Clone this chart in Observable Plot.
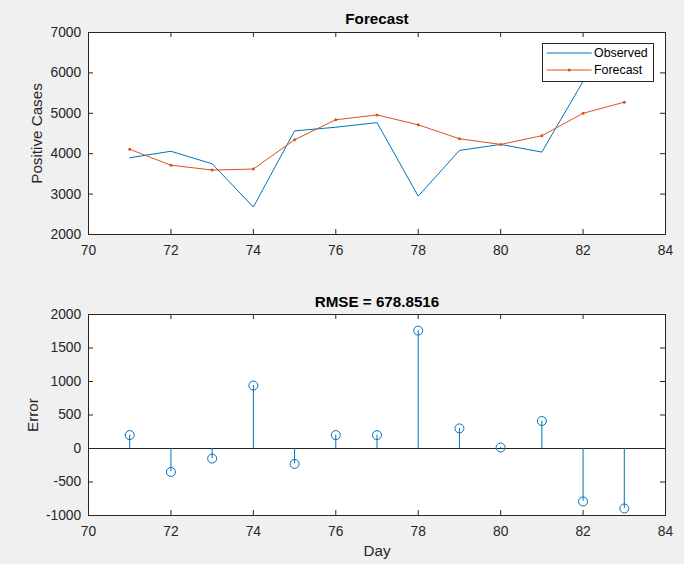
<!DOCTYPE html>
<html>
<head>
<meta charset="utf-8">
<script src="https://cdn.jsdelivr.net/npm/d3@7"></script>
<script src="https://cdn.jsdelivr.net/npm/@observablehq/plot@0.6"></script>
<style>
  html, body { margin: 0; padding: 0; background: #f0f0f0; }
  #chart { position: relative; width: 684px; height: 564px; background: #f0f0f0;
           font-family: "Liberation Sans", Arial, Helvetica, sans-serif; }
  #chart svg { display: block; }
  #legend { position: absolute; left: 542px; top: 43px; }
</style>
</head>
<body>
<div id="chart"></div>
<script>
// ---- data ----
const days = [71, 72, 73, 74, 75, 76, 77, 78, 79, 80, 81, 82, 83];
const observed = [3900, 4060, 3750, 2680, 4565, 4655, 4770, 2950, 4080, 4230, 4040, 5790, 6170];
const forecast = [4110, 3715, 3595, 3620, 4345, 4840, 4960, 4715, 4370, 4230, 4445, 5000, 5275];
const errors = [200, -350, -150, 940, -230, 200, 200, 1760, 300, 15, 410, -790, -895];
const xTicks = [70, 72, 74, 76, 78, 80, 82, 84];
const yTicksTop = [2000, 3000, 4000, 5000, 6000, 7000];
const yTicksBottom = [-1000, -500, 0, 500, 1000, 1500, 2000];
const titleTop = "Forecast";
const titleBottom = "RMSE = 678.8516";
const yLabelTop = "Positive Cases";
const yLabelBottom = "Error";
const xLabelBottom = "Day";
const seriesNames = ["Observed", "Forecast"];

const obsData = days.map((d, i) => ({day: d, value: observed[i]}));
const fcData = days.map((d, i) => ({day: d, value: forecast[i]}));
const errData = days.map((d, i) => ({day: d, err: errors[i]}));

const axisColor = "#262626";
const blue = "#0072BD", orange = "#D95319";
const font = '"Liberation Sans", Arial, Helvetica, sans-serif';
const W = 684, H = 282;
const mL = 88, mR = 19;
const innerW = W - mL - mR;

function frameTicks(innerH, yTicks) {
  return [
    Plot.tickX(xTicks, {x: d => d, insetTop: innerH - 5, stroke: axisColor}),
    Plot.tickX(xTicks, {x: d => d, insetBottom: innerH - 5, stroke: axisColor}),
    Plot.tickY(yTicks, {y: d => d, insetRight: innerW - 5, stroke: axisColor}),
    Plot.tickY(yTicks, {y: d => d, insetLeft: innerW - 5, stroke: axisColor}),
    Plot.axisX(xTicks, {tickSize: 0, tickPadding: 10.8, tickFormat: d => String(d), label: null}),
    Plot.axisY(yTicks, {tickSize: 0, tickPadding: 7.3, tickFormat: d => String(d), label: null})
  ];
}

const styleObj = {background: "transparent", fontFamily: font, fontSize: "13.8px", color: axisColor, overflow: "visible"};
const mid = {textAnchor: "middle", lineAnchor: "middle"};

// ---- top: Forecast ----
const mT1 = 32, mB1 = 48;
const topPlot = Plot.plot({
  width: W, height: H, marginLeft: mL, marginRight: mR, marginTop: mT1, marginBottom: mB1,
  style: styleObj,
  x: {domain: [70, 84]},
  y: {domain: [2000, 7000]},
  marks: [
    Plot.frame({fill: "white", stroke: null}),
    Plot.line(obsData, {x: "day", y: "value", stroke: blue, strokeWidth: 1}),
    Plot.line(fcData, {x: "day", y: "value", stroke: orange, strokeWidth: 1}),
    Plot.dot(fcData, {x: "day", y: "value", r: 1.5, fill: orange, stroke: null}),
    ...frameTicks(H - mT1 - mB1, yTicksTop),
    Plot.frame({stroke: axisColor, strokeWidth: 1}),
    Plot.text([titleTop], {text: d => d, frameAnchor: "top", dy: -13, ...mid, fontWeight: "bold", fontSize: 15.2, fill: "#000"}),
    Plot.text([yLabelTop], {text: d => d, frameAnchor: "left", dx: -51, rotate: -90, ...mid, fontSize: 15.2, fill: axisColor})
  ]
});

// ---- bottom: errors (stem) ----
const mT2 = 32, mB2 = 49;
const bottomPlot = Plot.plot({
  width: W, height: H, marginLeft: mL, marginRight: mR, marginTop: mT2, marginBottom: mB2,
  style: styleObj,
  x: {domain: [70, 84]},
  y: {domain: [-1000, 2000]},
  marks: [
    Plot.frame({fill: "white", stroke: null}),
    Plot.ruleY([0], {stroke: axisColor, strokeWidth: 1}),
    Plot.ruleX(errData, {x: "day", y1: 0, y2: "err", stroke: blue, strokeWidth: 1}),
    Plot.dot(errData, {x: "day", y: "err", r: 4.5, stroke: blue, fill: "none", strokeWidth: 1}),
    ...frameTicks(H - mT2 - mB2, yTicksBottom),
    Plot.frame({stroke: axisColor, strokeWidth: 1}),
    Plot.text([titleBottom], {text: d => d, frameAnchor: "top", dy: -12.6, ...mid, fontWeight: "bold", fontSize: 15.2, fill: "#000"}),
    Plot.text([yLabelBottom], {text: d => d, frameAnchor: "left", dx: -55, rotate: -90, ...mid, fontSize: 15.2, fill: axisColor}),
    Plot.text([xLabelBottom], {text: d => d, frameAnchor: "bottom", dy: 35.5, ...mid, fontSize: 15.2, fill: axisColor})
  ]
});

const chart = document.getElementById("chart");
chart.appendChild(topPlot);
chart.appendChild(bottomPlot);

// ---- legend (inside top axes, north-east) ----
const lg = d3.select(chart).append("svg").attr("id", "legend")
  .attr("width", 112).attr("height", 39)
  .style("font-family", font).style("font-size", "12.4px");
lg.append("rect").attr("x", 0.5).attr("y", 0.5).attr("width", 111).attr("height", 38)
  .attr("fill", "white").attr("stroke", axisColor).attr("stroke-width", 1);
const colors = [blue, orange];
const rowsY = [10, 27];
seriesNames.forEach((name, i) => {
  lg.append("line").attr("x1", 4.7).attr("x2", 49.7).attr("y1", rowsY[i]).attr("y2", rowsY[i])
    .attr("stroke", colors[i]).attr("stroke-width", 1);
  if (i === 1) lg.append("circle").attr("cx", 27.2).attr("cy", rowsY[i]).attr("r", 1.5).attr("fill", colors[i]);
  lg.append("text").attr("x", 52).attr("y", rowsY[i]).attr("dy", "0.35em")
    .attr("fill", "#000").text(name);
});
</script>
</body>
</html>
